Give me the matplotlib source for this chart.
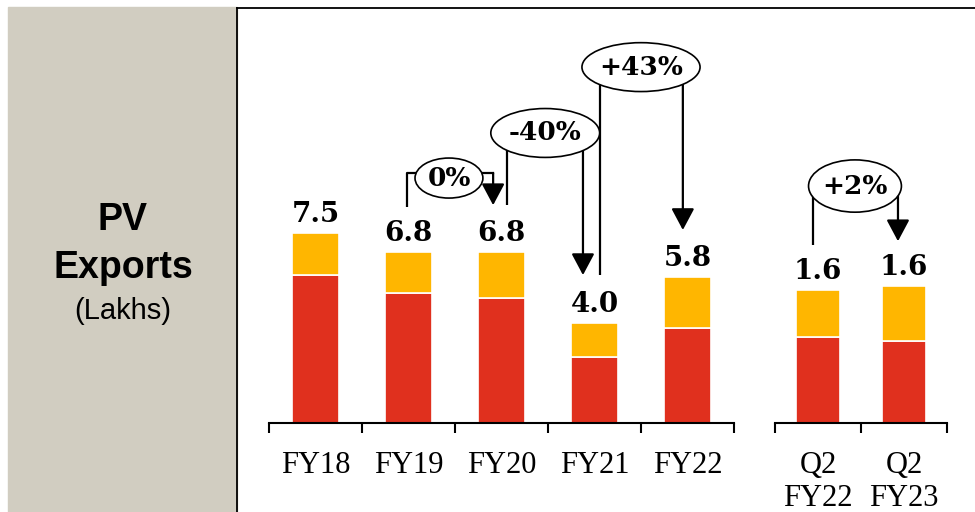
import matplotlib.pyplot as plt
from matplotlib.patches import Ellipse, Rectangle
from matplotlib.lines import Line2D

# yearly PV exports (lakhs), red = lower segment, yellow = upper segment
years = ['FY18', 'FY19', 'FY20', 'FY21', 'FY22']
year_red = [5.85, 5.15, 4.95, 2.6, 3.75]
year_yellow = [1.65, 1.6, 1.8, 1.35, 2.0]
year_labels = ['7.5', '6.8', '6.8', '4.0', '5.8']

quarters = ['Q2\nFY22', 'Q2\nFY23']
q_red = [1.04, 0.99]
q_yellow = [0.56, 0.66]
q_labels = ['1.6', '1.6']

# growth callouts: label, oval centre (x, y), oval size (w, h),
# left line (x, bottom), right arrow (x, tip), height where lines join the oval
year_changes = [
    ('0%', (1.435, 9.67), (0.73, 1.58), (0.98, 8.53), (1.91, 8.6), 9.87),
    ('-40%', (2.47, 11.45), (1.17, 1.93), (2.06, 8.6), (2.876, 5.84), 11.45),
    ('+43%', (3.5, 14.05), (1.27, 1.93), (3.06, 5.84), (3.95, 7.62), 14.05),
]
q_changes = [
    ('+2%', (0.43, 2.855), (1.08, 0.63), (-0.06, 2.14), (0.93, 2.19), 2.855),
]

RED = '#E0301E'
YELLOW = '#FFB600'
BEIGE = '#D1CDC1'

W, H = 975, 512
fig = plt.figure(figsize=(W / 100, H / 100), dpi=100)


def fx(px):
    return px / W


def fy(py):
    return 1 - py / H


# left title panel and frame lines
fig.patches.append(Rectangle((fx(8), 0), fx(237) - fx(8), fy(7),
                             transform=fig.transFigure, color=BEIGE, zorder=0))
fig.lines.append(Line2D([fx(237), fx(237)], [0, fy(8)], transform=fig.transFigure,
                        color='black', lw=1.3))
fig.lines.append(Line2D([fx(237), 1], [fy(8), fy(8)], transform=fig.transFigure,
                        color='black', lw=1.3))

fig.text(fx(123), fy(220), 'PV', ha='center', va='center', fontsize=27,
         fontweight='bold', family='Liberation Sans')
fig.text(fx(123), fy(268), 'Exports', ha='center', va='center', fontsize=27,
         fontweight='bold', family='Liberation Sans')
fig.text(fx(123), fy(311), '(Lakhs)', ha='center', va='center', fontsize=21,
         family='Liberation Sans')

axh = (423 - 10) / H
axL = fig.add_axes([fx(269), fy(423), fx(734) - fx(269), axh])
axR = fig.add_axes([fx(775), fy(423), fx(947) - fx(775), axh])


def draw_panel(ax, cats, red, yellow, labels, changes, ytop, width):
    x = list(range(len(cats)))
    ax.bar(x, red, width=width, color=RED, edgecolor='white', linewidth=1.2, zorder=2)
    ax.bar(x, yellow, bottom=red, width=width, color=YELLOW, edgecolor='white',
           linewidth=1.2, zorder=2)
    for i, lab in enumerate(labels):
        ax.annotate(lab, (i, red[i] + yellow[i]), xytext=(0, 8), textcoords='offset points',
                    ha='center', va='baseline', fontsize=20, fontweight='bold',
                    family='DejaVu Serif')

    for lab, (ox, oy), (ow, oh), (lx, lb), (rx, rt), yj in changes:
        ax.plot([lx, lx, ox], [lb, yj, yj], color='black', lw=1.6, zorder=3,
                clip_on=False, solid_capstyle='butt')
        ax.plot([ox, rx], [yj, yj], color='black', lw=1.6, zorder=3, clip_on=False)
        ax.annotate('', xy=(rx, rt), xytext=(rx, yj),
                    arrowprops=dict(arrowstyle='-|>,head_length=0.6,head_width=0.32',
                                    color='black', lw=1.6, mutation_scale=22,
                                    shrinkA=0, shrinkB=0),
                    zorder=3, annotation_clip=False)
        ax.add_patch(Ellipse((ox, oy), ow, oh, facecolor='white', edgecolor='black',
                             lw=1.2, zorder=4, clip_on=False))
        ax.text(ox, oy, lab, ha='center', va='center', fontsize=19, fontweight='bold',
                family='DejaVu Serif', zorder=5)

    ax.set_xlim(-0.5, len(cats) - 0.5)
    ax.set_ylim(0, ytop)
    ax.patch.set_visible(False)
    for s in ['left', 'right', 'top']:
        ax.spines[s].set_visible(False)
    ax.spines['bottom'].set_linewidth(1.5)
    ax.set_yticks([])
    ax.set_xticks(x)
    ax.set_xticklabels(cats, fontsize=22, family='Liberation Serif', linespacing=1.2,
                       va='top')
    ax.set_xticks([i - 0.5 for i in range(len(cats) + 1)], minor=True)
    ax.tick_params(axis='x', which='major', length=0, pad=20)
    ax.tick_params(axis='x', which='minor', length=7, width=1.5, direction='out')


draw_panel(axL, years, year_red, year_yellow, year_labels, year_changes, 413 / 25.33, 0.5)
draw_panel(axR, quarters, q_red, q_yellow, q_labels, q_changes, 413 / 83, 0.52)

fig.savefig('out.png', dpi=100, facecolor='white')
